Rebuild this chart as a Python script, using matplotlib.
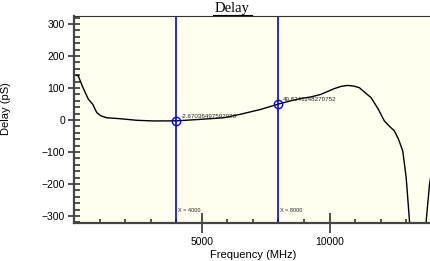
import numpy as np
import matplotlib
matplotlib.use('Agg')
from matplotlib import pyplot as plt
from matplotlib.ticker import MultipleLocator, FixedLocator
from matplotlib.lines import Line2D

# delay curve
freq = [100, 170, 326, 450, 562, 734, 891, 1050, 1284, 1806, 2462, 3115, 4000,
        4948, 5864, 6519, 7304, 8000, 8482, 8875, 9268, 9660, 10184, 10450,
        10707, 10950, 11165, 11624, 11900, 12146, 12350, 12539, 12700, 12866,
        13000, 13130, 13250, 13650, 13783, 13913, 14018]
delay = [140, 137, 106, 84, 65, 49, 23, 13, 7, 4, -1, -3, -2.67,
         2, 7, 18, 33, 49.82, 60, 67, 72, 80, 98, 105,
         108, 106, 101, 70, 35, -3, -20, -34, -60, -97,
         -180, -316, -600, -600, -316, -201, -149]

markers_x = [4000, 8000]
markers_y = [-2.67036497592926, 49.8241148270752]
marker_text = ['-2.67036497592926', '49.8241148270752']
xticks = [5000, 10000]

plt.rcParams['font.family'] = ['Liberation Sans', 'DejaVu Sans']

fig = plt.figure(figsize=(4.31, 2.61), dpi=100)
ax = fig.add_axes([0.1717, 0.1467, 0.83, 0.792])
ax.set_facecolor('#fffff0')

ax.plot(freq, delay, color='black', lw=1.0)

for mx, my, mt in zip(markers_x, markers_y, marker_text):
    ax.axvline(mx, color='#0000ff', lw=1.2)
    ax.plot(mx, my, 'o', mfc='none', mec='#0000ff', ms=6, mew=1.0)
    ax.annotate(mt, (mx, my), xytext=(3, 3), textcoords='offset points',
                fontsize=4.5, color='#222222', va='center')
    ax.annotate('X = %d' % mx, (mx, -321), xytext=(1, 8), textcoords='offset points',
                fontsize=4, color='#222222')

ax.set_xlim(0, 14000)
ax.set_ylim(-321, 325)
ax.xaxis.set_major_locator(FixedLocator(xticks))
ax.xaxis.set_minor_locator(MultipleLocator(1000))
ax.yaxis.set_major_locator(MultipleLocator(100))
ax.yaxis.set_minor_locator(MultipleLocator(20))

ax.tick_params(axis='both', which='major', labelsize=7.5, color='#333333')
ax.tick_params(axis='y', which='major', direction='inout', length=9, width=1.2, pad=2)
ax.tick_params(axis='y', which='minor', direction='in', length=4.5, width=1.2, color='#333333')
ax.tick_params(axis='x', which='major', direction='inout', length=14, width=1.2, pad=3.5)
ax.tick_params(axis='x', which='minor', direction='in', length=3, width=1.2, color='#333333')

for s in ['left', 'bottom']:
    ax.spines[s].set_linewidth(1.6)
    ax.spines[s].set_color('#444444')
ax.spines['top'].set_linewidth(0.8)
ax.spines['top'].set_color('#333333')
ax.spines['right'].set_visible(False)

ax.set_xlabel('Frequency (MHz)', fontsize=8)
ax.xaxis.set_label_coords(0.5, -0.132)
ax.set_ylabel('Delay (pS)', fontsize=8)
ax.yaxis.set_label_coords(-0.175, 0.55)

fig.text(0.538, 0.955, 'Delay', family='Liberation Serif', fontsize=10.5,
         ha='center', va='baseline')
fig.add_artist(Line2D([213 / 431, 252 / 431], [1 - 14.5 / 261, 1 - 14.5 / 261],
                      color='black', lw=0.8))

fig.savefig('out.png', dpi=100)
